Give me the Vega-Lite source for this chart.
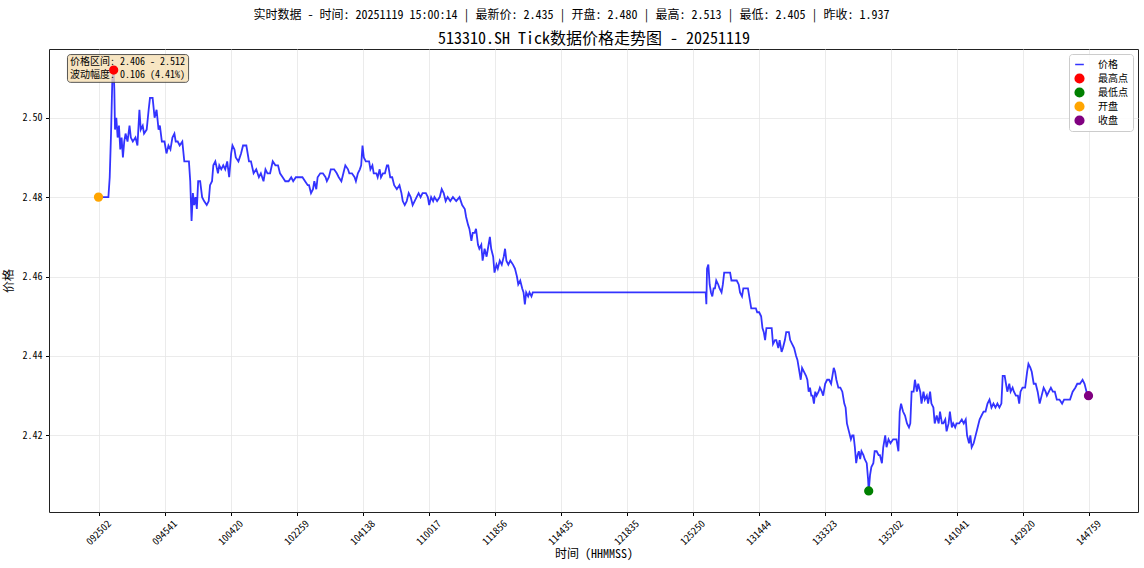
{
"$schema":"https://vega.github.io/schema/vega-lite/v6.json",
"width":1089,"height":463,
"autosize":{"type":"none"},
"padding":{"left":49,"top":49,"right":6,"bottom":56},
"background":"white",
"title":{"text":"实时数据 - 时间: 20251119 15:00:14 | 最新价: 2.435 | 开盘: 2.480 | 最高: 2.513 | 最低: 2.405 | 昨收: 1.937","fontSize":12,"fontWeight":"normal","frame":"group","anchor":"middle","dx":-22,"offset":8,"color":"#000"},
"config":{
"font":"Noto Sans Mono CJK SC, Noto Sans CJK SC, sans-serif",
"view":{"stroke":"#222","strokeWidth":1},
"axis":{"labelFontSize":10,"labelColor":"#000","titleColor":"#000","titleFontSize":12,"titleFontWeight":"normal","tickSize":3.5,"tickColor":"#000","domain":false,"gridColor":"#e6e6e6","gridWidth":0.8},
"legend":{"title":null,"orient":"top-right","offset":5,"labelFontSize":10,"labelColor":"#000","fillColor":"rgba(255,255,255,0.85)","strokeColor":"#cccccc","cornerRadius":3,"padding":5,"rowPadding":3,"clipHeight":11,"labelOffset":13}
},
"datasets":{
"px":[
{"i":0,"p":2.480},{"i":15,"p":2.480},{"i":17,"p":2.485},{"i":19,"p":2.496},{"i":21,"p":2.510},{"i":23,"p":2.512},{"i":24,"p":2.507},{"i":25,"p":2.497},{"i":27,"p":2.500},{"i":29,"p":2.495},{"i":31,"p":2.498},{"i":33,"p":2.492},{"i":35,"p":2.495},{"i":37,"p":2.490},{"i":39,"p":2.494},{"i":41,"p":2.496},{"i":44,"p":2.494},{"i":47,"p":2.498},{"i":49,"p":2.495},{"i":52,"p":2.494},{"i":56,"p":2.495},{"i":59,"p":2.493},{"i":62,"p":2.502},{"i":64,"p":2.497},{"i":67,"p":2.498},{"i":69,"p":2.496},{"i":73,"p":2.497},{"i":76,"p":2.502},{"i":78,"p":2.505},{"i":82,"p":2.505},{"i":85,"p":2.500},{"i":88,"p":2.502},{"i":91,"p":2.497},{"i":93,"p":2.498},{"i":96,"p":2.494},{"i":100,"p":2.494},{"i":103,"p":2.491},{"i":106,"p":2.493},{"i":109,"p":2.492},{"i":112,"p":2.495},{"i":115,"p":2.496},{"i":117,"p":2.494},{"i":120,"p":2.494},{"i":123,"p":2.493},{"i":127,"p":2.494},{"i":130,"p":2.489},{"i":134,"p":2.489},{"i":137,"p":2.489},{"i":139,"p":2.484},{"i":141,"p":2.474},{"i":143,"p":2.481},{"i":145,"p":2.478},{"i":147,"p":2.480},{"i":149,"p":2.477},{"i":151,"p":2.484},{"i":154,"p":2.484},{"i":157,"p":2.480},{"i":160,"p":2.479},{"i":164,"p":2.478},{"i":167,"p":2.479},{"i":169,"p":2.483},{"i":172,"p":2.484},{"i":174,"p":2.488},{"i":177,"p":2.489},{"i":181,"p":2.486},{"i":183,"p":2.488},{"i":186,"p":2.487},{"i":189,"p":2.488},{"i":192,"p":2.487},{"i":195,"p":2.489},{"i":198,"p":2.485},{"i":201,"p":2.491},{"i":203,"p":2.493},{"i":206,"p":2.492},{"i":208,"p":2.490},{"i":212,"p":2.489},{"i":216,"p":2.491},{"i":219,"p":2.493},{"i":224,"p":2.493},{"i":228,"p":2.489},{"i":231,"p":2.489},{"i":235,"p":2.486},{"i":239,"p":2.487},{"i":243,"p":2.485},{"i":246,"p":2.486},{"i":250,"p":2.484},{"i":253,"p":2.487},{"i":256,"p":2.486},{"i":260,"p":2.486},{"i":264,"p":2.489},{"i":268,"p":2.488},{"i":272,"p":2.488},{"i":275,"p":2.486},{"i":279,"p":2.485},{"i":283,"p":2.484},{"i":288,"p":2.484},{"i":292,"p":2.485},{"i":295,"p":2.484},{"i":299,"p":2.485},{"i":304,"p":2.485},{"i":309,"p":2.485},{"i":313,"p":2.484},{"i":317,"p":2.483},
{"i":319,"p":2.483},{"i":322,"p":2.481},{"i":325,"p":2.482},{"i":327,"p":2.484},{"i":330,"p":2.482},{"i":332,"p":2.485},{"i":336,"p":2.486},{"i":340,"p":2.486},{"i":344,"p":2.485},{"i":346,"p":2.484},{"i":349,"p":2.485},{"i":352,"p":2.487},{"i":357,"p":2.487},{"i":361,"p":2.486},{"i":364,"p":2.485},{"i":368,"p":2.484},{"i":371,"p":2.486},{"i":374,"p":2.488},{"i":378,"p":2.487},{"i":380,"p":2.486},{"i":384,"p":2.486},{"i":388,"p":2.485},{"i":390,"p":2.484},{"i":393,"p":2.486},{"i":396,"p":2.487},{"i":398,"p":2.488},{"i":400,"p":2.493},{"i":402,"p":2.490},{"i":405,"p":2.489},{"i":407,"p":2.489},{"i":410,"p":2.489},{"i":412,"p":2.487},{"i":415,"p":2.488},{"i":417,"p":2.486},{"i":421,"p":2.486},{"i":423,"p":2.485},{"i":426,"p":2.487},{"i":428,"p":2.485},{"i":431,"p":2.486},{"i":434,"p":2.486},{"i":437,"p":2.488},{"i":439,"p":2.488},{"i":442,"p":2.485},{"i":445,"p":2.485},{"i":448,"p":2.483},{"i":452,"p":2.482},{"i":456,"p":2.483},{"i":459,"p":2.481},{"i":461,"p":2.479},{"i":464,"p":2.478},{"i":467,"p":2.479},{"i":470,"p":2.481},{"i":473,"p":2.480},{"i":476,"p":2.478},{"i":479,"p":2.479},{"i":482,"p":2.480},{"i":485,"p":2.481},{"i":488,"p":2.480},{"i":491,"p":2.481},{"i":496,"p":2.481},{"i":499,"p":2.480},{"i":501,"p":2.478},{"i":504,"p":2.480},{"i":507,"p":2.479},{"i":509,"p":2.480},{"i":513,"p":2.479},{"i":517,"p":2.480},{"i":520,"p":2.482},{"i":523,"p":2.481},{"i":526,"p":2.479},{"i":529,"p":2.480},{"i":533,"p":2.479},{"i":537,"p":2.480},{"i":542,"p":2.479},{"i":547,"p":2.480},{"i":551,"p":2.478},{"i":555,"p":2.477},{"i":557,"p":2.475},{"i":560,"p":2.473},{"i":562,"p":2.472},{"i":565,"p":2.469},{"i":567,"p":2.471},{"i":570,"p":2.471},{"i":572,"p":2.472},{"i":575,"p":2.468},{"i":577,"p":2.467},{"i":580,"p":2.468},{"i":582,"p":2.464},{"i":585,"p":2.467},{"i":588,"p":2.465},{"i":590,"p":2.467},{"i":593,"p":2.470},{"i":595,"p":2.467},{"i":598,"p":2.465},{"i":600,"p":2.461},{"i":603,"p":2.463},{"i":605,"p":2.462},{"i":608,"p":2.464},{"i":611,"p":2.463},{"i":614,"p":2.465},{"i":616,"p":2.467},{"i":618,"p":2.464},{"i":621,"p":2.463},{"i":624,"p":2.464},{"i":628,"p":2.463},{"i":631,"p":2.462},{"i":634,"p":2.460},{"i":636,"p":2.458},{"i":639,"p":2.459},{"i":642,"p":2.457},{"i":644,"p":2.456},{"i":646,"p":2.453},{"i":648,"p":2.456},{"i":651,"p":2.455},{"i":653,"p":2.456},{"i":656,"p":2.455},{"i":658,"p":2.456},{"i":919,"p":2.456},
{"i":920,"p":2.456},{"i":921,"p":2.453},{"i":922,"p":2.462},{"i":924,"p":2.463},{"i":926,"p":2.458},{"i":928,"p":2.456},{"i":930,"p":2.455},{"i":932,"p":2.457},{"i":934,"p":2.457},{"i":936,"p":2.459},{"i":939,"p":2.458},{"i":941,"p":2.457},{"i":944,"p":2.456},{"i":946,"p":2.458},{"i":948,"p":2.461},{"i":951,"p":2.461},{"i":957,"p":2.461},{"i":959,"p":2.459},{"i":963,"p":2.459},{"i":967,"p":2.459},{"i":970,"p":2.458},{"i":972,"p":2.456},{"i":975,"p":2.455},{"i":977,"p":2.457},{"i":979,"p":2.457},{"i":984,"p":2.457},{"i":987,"p":2.454},{"i":989,"p":2.452},{"i":993,"p":2.452},{"i":996,"p":2.452},{"i":998,"p":2.451},{"i":1001,"p":2.451},{"i":1004,"p":2.450},{"i":1006,"p":2.447},{"i":1008,"p":2.446},{"i":1010,"p":2.444},{"i":1012,"p":2.447},{"i":1015,"p":2.447},{"i":1017,"p":2.447},{"i":1020,"p":2.447},{"i":1022,"p":2.443},{"i":1025,"p":2.444},{"i":1027,"p":2.444},{"i":1030,"p":2.442},{"i":1032,"p":2.444},{"i":1035,"p":2.441},{"i":1037,"p":2.442},{"i":1040,"p":2.444},{"i":1042,"p":2.446},{"i":1046,"p":2.446},{"i":1048,"p":2.444},{"i":1051,"p":2.443},{"i":1054,"p":2.442},{"i":1057,"p":2.440},{"i":1059,"p":2.439},{"i":1061,"p":2.437},{"i":1064,"p":2.434},{"i":1066,"p":2.437},{"i":1069,"p":2.436},{"i":1072,"p":2.435},{"i":1074,"p":2.434},{"i":1076,"p":2.431},{"i":1078,"p":2.432},{"i":1080,"p":2.430},{"i":1082,"p":2.430},{"i":1084,"p":2.428},{"i":1086,"p":2.431},{"i":1088,"p":2.430},{"i":1091,"p":2.431},{"i":1093,"p":2.432},{"i":1096,"p":2.431},{"i":1098,"p":2.430},{"i":1101,"p":2.433},{"i":1104,"p":2.434},{"i":1107,"p":2.434},{"i":1110,"p":2.433},{"i":1112,"p":2.435},{"i":1114,"p":2.437},{"i":1116,"p":2.436},{"i":1118,"p":2.434},{"i":1121,"p":2.432},{"i":1124,"p":2.432},{"i":1127,"p":2.431},{"i":1130,"p":2.428},{"i":1132,"p":2.427},{"i":1134,"p":2.423},{"i":1137,"p":2.421},{"i":1140,"p":2.419},{"i":1142,"p":2.420},{"i":1144,"p":2.420},{"i":1146,"p":2.417},{"i":1148,"p":2.413},{"i":1150,"p":2.415},{"i":1152,"p":2.416},{"i":1154,"p":2.414},{"i":1156,"p":2.416},{"i":1159,"p":2.415},{"i":1161,"p":2.414},{"i":1164,"p":2.413},{"i":1166,"p":2.409},{"i":1167,"p":2.406},{"i":1169,"p":2.410},{"i":1171,"p":2.412},{"i":1174,"p":2.413},{"i":1176,"p":2.416},{"i":1179,"p":2.416},{"i":1182,"p":2.415},{"i":1184,"p":2.415},{"i":1187,"p":2.413},{"i":1189,"p":2.417},{"i":1192,"p":2.420},{"i":1194,"p":2.417},{"i":1197,"p":2.419},{"i":1200,"p":2.418},{"i":1204,"p":2.419},{"i":1209,"p":2.419},{"i":1212,"p":2.416},{"i":1214,"p":2.426},{"i":1216,"p":2.428},{"i":1219,"p":2.426},{"i":1222,"p":2.425},{"i":1225,"p":2.423},{"i":1228,"p":2.422},
{"i":1230,"p":2.423},{"i":1232,"p":2.431},{"i":1235,"p":2.431},{"i":1237,"p":2.434},{"i":1240,"p":2.431},{"i":1242,"p":2.433},{"i":1245,"p":2.431},{"i":1247,"p":2.428},{"i":1250,"p":2.431},{"i":1252,"p":2.429},{"i":1255,"p":2.430},{"i":1257,"p":2.428},{"i":1260,"p":2.431},{"i":1262,"p":2.428},{"i":1265,"p":2.427},{"i":1267,"p":2.423},{"i":1270,"p":2.425},{"i":1273,"p":2.423},{"i":1275,"p":2.426},{"i":1278,"p":2.423},{"i":1280,"p":2.423},{"i":1283,"p":2.424},{"i":1285,"p":2.421},{"i":1288,"p":2.423},{"i":1290,"p":2.426},{"i":1293,"p":2.422},{"i":1295,"p":2.423},{"i":1298,"p":2.422},{"i":1300,"p":2.423},{"i":1304,"p":2.423},{"i":1308,"p":2.424},{"i":1311,"p":2.423},{"i":1314,"p":2.424},{"i":1316,"p":2.420},{"i":1319,"p":2.418},{"i":1321,"p":2.420},{"i":1323,"p":2.417},{"i":1326,"p":2.418},{"i":1329,"p":2.420},{"i":1332,"p":2.422},{"i":1335,"p":2.424},{"i":1338,"p":2.425},{"i":1341,"p":2.426},{"i":1344,"p":2.426},{"i":1347,"p":2.428},{"i":1350,"p":2.429},{"i":1353,"p":2.427},{"i":1356,"p":2.428},{"i":1359,"p":2.427},{"i":1362,"p":2.428},{"i":1365,"p":2.427},{"i":1368,"p":2.428},{"i":1370,"p":2.435},{"i":1373,"p":2.435},{"i":1375,"p":2.433},{"i":1377,"p":2.431},{"i":1380,"p":2.433},{"i":1382,"p":2.431},{"i":1385,"p":2.432},{"i":1387,"p":2.431},{"i":1390,"p":2.430},{"i":1393,"p":2.430},{"i":1395,"p":2.428},{"i":1397,"p":2.431},{"i":1400,"p":2.432},{"i":1404,"p":2.432},{"i":1407,"p":2.436},{"i":1409,"p":2.438},{"i":1412,"p":2.437},{"i":1414,"p":2.436},{"i":1417,"p":2.433},{"i":1420,"p":2.433},{"i":1423,"p":2.431},{"i":1426,"p":2.428},{"i":1429,"p":2.430},{"i":1432,"p":2.432},{"i":1435,"p":2.431},{"i":1437,"p":2.430},{"i":1440,"p":2.431},{"i":1443,"p":2.432},{"i":1446,"p":2.431},{"i":1449,"p":2.431},{"i":1452,"p":2.429},{"i":1456,"p":2.429},{"i":1460,"p":2.428},{"i":1463,"p":2.429},{"i":1467,"p":2.429},{"i":1472,"p":2.429},{"i":1476,"p":2.431},{"i":1480,"p":2.432},{"i":1483,"p":2.433},{"i":1487,"p":2.433},{"i":1491,"p":2.434},{"i":1494,"p":2.433},{"i":1497,"p":2.431},{"i":1500,"p":2.430}
],
"pts":[
{"i":23,"p":2.512,"k":"最高点"},{"i":1167,"p":2.406,"k":"最低点"},{"i":0,"p":2.480,"k":"开盘"},{"i":1500,"p":2.430,"k":"收盘"}
],
"one":[{"a":1}]
},
"layer":[
{"data":{"name":"px"},
"mark":{"type":"line","strokeWidth":1.8,"opacity":0.8,"color":"blue"},
"encoding":{
"x":{"field":"i","type":"quantitative","scale":{"domain":[-75,1575],"nice":false,"zero":false},
"axis":{"values":[0,100,200,300,400,500,600,700,800,900,1000,1100,1200,1300,1400,1500],"labelExpr":"['092502','094541','100420','102259','104138','110017','111856','114435','121835','125250','131444','133323','135202','141041','142920','144759'][round(datum.value/100)]","labelAngle":-45,"labelAlign":"center","labelBaseline":"middle","labelPadding":17,"labelOverlap":false,"labelFlush":false,"grid":true,"title":"时间 (HHMMSS)","titlePadding":2}},
"y":{"field":"p","type":"quantitative","scale":{"domain":[2.4007,2.5173],"nice":false,"zero":false},
"axis":{"values":[2.42,2.44,2.46,2.48,2.50],"format":".2f","grid":true,"title":"价格","titlePadding":7,"labelPadding":3.5}}
}},
{"data":{"name":"one"},
"mark":{"type":"rect","fill":"wheat","fillOpacity":0.8,"stroke":"#444","strokeOpacity":0.9,"strokeWidth":1,"cornerRadius":3},
"encoding":{"x":{"datum":-47,"type":"quantitative","axis":null},"x2":{"datum":136.5},"y":{"datum":2.5159,"type":"quantitative","axis":null},"y2":{"datum":2.5089}}},
{"data":{"name":"one"},
"mark":{"type":"text","text":["价格区间: 2.406 - 2.512","波动幅度: 0.106 (4.41%)"],"align":"left","baseline":"top","fontSize":10,"lineHeight":13,"color":"#000"},
"encoding":{"x":{"datum":-43,"type":"quantitative","axis":null},"y":{"datum":2.5154,"type":"quantitative","axis":null}}},
{"data":{"name":"pts"},
"mark":{"type":"point","filled":true,"size":60,"opacity":1,"strokeWidth":1.5},
"encoding":{
"x":{"field":"i","type":"quantitative","scale":{"domain":[-75,1575],"nice":false,"zero":false},
"axis":{"orient":"top","title":"513310.SH Tick数据价格走势图 - 20251119","labels":false,"ticks":false,"domain":false,"grid":false,"titleFontSize":16,"titleFontWeight":"normal","titlePadding":3}},
"y":{"field":"p","type":"quantitative","axis":null},
"color":{"field":"k","type":"nominal","scale":{"domain":["价格","最高点","最低点","开盘","收盘"],"range":["#3333ff","red","green","orange","purple"]},"legend":{"title":null,"symbolSize":75}},
"stroke":{"field":"k","type":"nominal","scale":{"domain":["价格","最高点","最低点","开盘","收盘"],"range":["#3333ff","red","green","orange","purple"]},"legend":{"title":null,"symbolSize":75}},
"shape":{"field":"k","type":"nominal","scale":{"domain":["价格","最高点","最低点","开盘","收盘"],"range":["stroke","circle","circle","circle","circle"]},"legend":{"title":null,"symbolSize":75}}
}}
],
"resolve":{"axis":{"x":"independent","y":"independent"}}
}
